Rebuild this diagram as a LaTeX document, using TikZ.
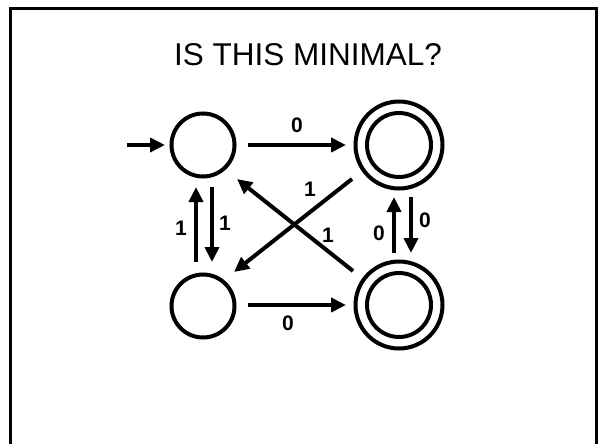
\documentclass[tikz,border=0pt]{standalone}
\usepackage{fontspec}
\setmainfont{Liberation Sans}
\usetikzlibrary{arrows.meta,calc}
\begin{document}
\begin{tikzpicture}[x=1pt,y=-1pt,
  ring/.style={circle,draw,line width=4pt,inner sep=0pt},
  edge/.style={line width=4pt,-{Triangle[length=15pt,width=14pt]}},
  lab/.style={font=\bfseries\fontsize{21}{21}\selectfont,inner sep=0pt}]
\useasboundingbox (0,0) rectangle (600,444);
\clip (0,0) rectangle (600,444);
\fill[white] (0,0) rectangle (600,444);
\draw[line width=3pt] (10.5,450) -- (10.5,9) -- (596,9) -- (596,450);
\node[font=\fontsize{31.5}{31.5}\selectfont] (title) at (308,55) {IS THIS MINIMAL?};
% states
\node[ring,minimum size=63pt] (A) at (203,145) {};
\node[ring,minimum size=63pt] (C) at (203,306) {};
\node[ring,minimum size=87pt] (B) at (399,145) {};
\node[ring,minimum size=64pt] (Bi) at (399,145) {};
\node[ring,minimum size=87pt] (D) at (399,305) {};
\node[ring,minimum size=64pt] (Di) at (399,305) {};
\coordinate (s) at (127,145);
% arrows
\draw[edge] (s) -- ($(A)+(-38,0)$);
\draw[edge] ($(A)+(45,0)$) -- ($(B)+(-53,0)$);
\draw[edge] ($(C)+(45,-1)$) -- ($(D)+(-53,0)$);
\draw[edge] ($(C)+(-7,-44)$) -- ($(A)+(-7,42)$);
\draw[edge] ($(A)+(9,42)$) -- ($(C)+(9,-44)$);
\draw[edge] ($(D)+(-5,-52)$) -- ($(B)+(-5,52)$);
\draw[edge] ($(B)+(12,52)$) -- ($(D)+(12,-52)$);
\draw[edge] ($(D)+(-46,-34)$) -- ($(A)+(34,34)$);
\draw[edge] ($(B)+(-47,34)$) -- ($(C)+(31,-34)$);
% labels
\node[lab] (l1) at (297,125) {0};
\node[lab] (l2) at (288,323) {0};
\node[lab] (l3) at (181,228) {1};
\node[lab] (l4) at (225,223) {1};
\node[lab] (l5) at (379,233) {0};
\node[lab] (l6) at (425,220) {0};
\node[lab] (l7) at (310,189) {1};
\node[lab] (l8) at (328,235) {1};
\end{tikzpicture}
\end{document}
